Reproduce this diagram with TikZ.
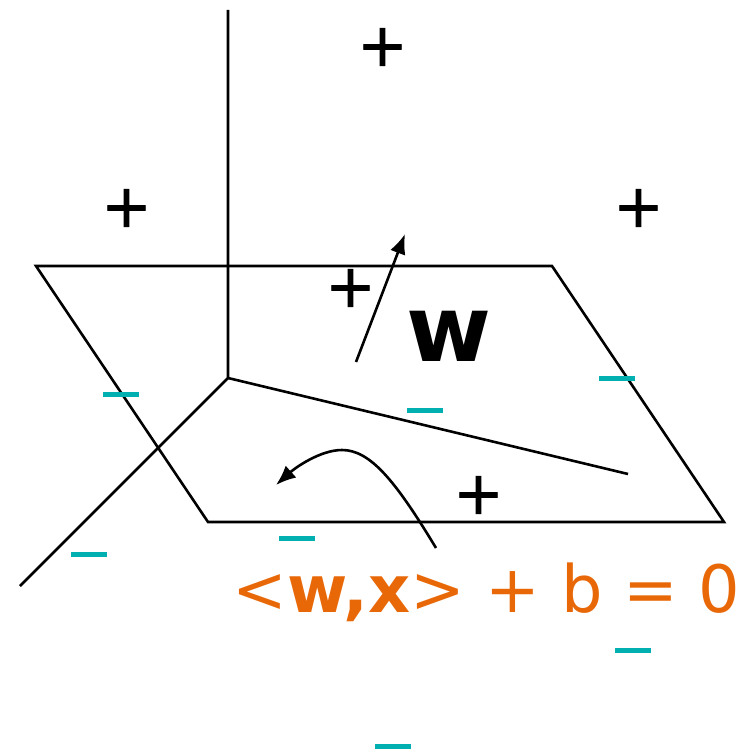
\documentclass[tikz,border=0pt]{standalone}
\usepackage{fontspec}
\setmainfont{DejaVu Sans}
\newfontfamily\plusfont[FakeBold=1.2]{DejaVu Sans}
\usetikzlibrary{arrows.meta}
\definecolor{teal1}{RGB}{0,175,175}
\definecolor{org}{RGB}{232,104,8}
\tikzset{
  ln/.style={line width=1.95pt,black},
  arr/.style={ln,-{Latex[length=15pt,width=12pt]}},
  plus/.style={inner sep=0pt,font=\plusfont\fontsize{45}{45}\selectfont,text=black},
  minus/.style={fill=teal1,minimum width=27pt,minimum height=3.75pt,inner sep=0pt}
}
\begin{document}
\begin{tikzpicture}[x=0.75pt,y=-0.75pt]
\useasboundingbox (0,0) rectangle (748,752);
\coordinate (p1) at (36,266);\coordinate (p2) at (552,266);\coordinate (p3) at (724,522);\coordinate (p4) at (208,522);
\draw[ln,line join=miter] (p1)--(p2)--(p3)--(p4)--cycle;
\coordinate (o) at (228,378);\coordinate (zt) at (228,10);\coordinate (xe) at (20,586);\coordinate (ye) at (628,474);
\draw[ln] (zt)--(o)--(xe);
\draw[ln] (o)--(ye);
\coordinate (w1) at (356,362);\coordinate (w2) at (405,234);
\draw[arr] (w1)--(w2);
\coordinate (c1) at (436,548);\coordinate (c2) at (276,485);
\draw[arr] (c1) .. controls (395,480) and (370,450) .. (342,450) .. controls (320,450) and (295,468) .. (c2);
\node[plus] (a) at (382.5,47) {+};
\node[plus] (b) at (126.5,208) {+};
\node[plus] (c) at (638.5,208) {+};
\node[plus] (d) at (350.5,288) {+};
\node[plus] (e) at (478.5,495) {+};
\node[minus] (m1) at (121,394.5) {};
\node[minus] (m2) at (425,410.5) {};
\node[minus] (m3) at (617,378.5) {};
\node[minus] (m4) at (297,538.5) {};
\node[minus] (m5) at (89,554.5) {};
\node[minus] (m6) at (633,650.5) {};
\node[minus] (m7) at (393,746.5) {};
\node[inner sep=0pt,anchor=base,font=\fontsize{69}{69}\selectfont\bfseries] (w) at (449,361) {w};
\node[inner sep=0pt,anchor=base west,text=org,font=\fontsize{49}{49}\selectfont] (eq) at (232,612) {<\textbf{w,x}> + b = 0};
\end{tikzpicture}
\end{document}
